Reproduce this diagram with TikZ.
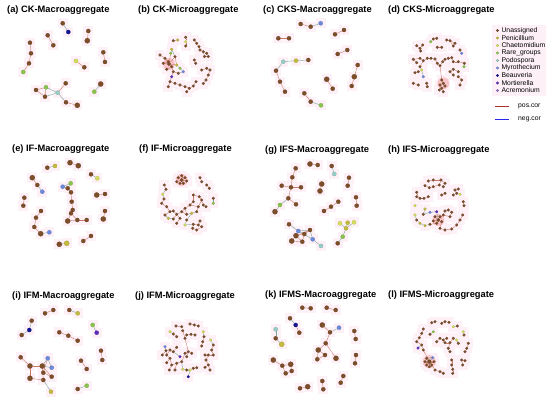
\documentclass[tikz,border=0pt]{standalone}
\usepackage{fontspec}
\setmainfont{Liberation Sans}
\usetikzlibrary{positioning}
\definecolor{un}{RGB}{125,78,42}
\definecolor{pe}{RGB}{196,186,62}
\definecolor{ch}{RGB}{212,222,90}
\definecolor{ra}{RGB}{138,196,76}
\definecolor{po}{RGB}{150,205,198}
\definecolor{my}{RGB}{108,138,220}
\definecolor{be}{RGB}{20,20,150}
\definecolor{mo}{RGB}{96,44,190}
\definecolor{ac}{RGB}{146,116,206}
\definecolor{halopink}{RGB}{253,241,247}
\definecolor{hotpink}{RGB}{248,196,200}
\definecolor{posline}{RGB}{168,52,46}
\definecolor{negline}{RGB}{40,40,240}
\definecolor{posedgec}{RGB}{204,122,108}
\definecolor{mixedgec}{RGB}{124,164,156}
\pgfdeclarelayer{halo}
\pgfdeclarelayer{edge}
\pgfsetlayers{halo,edge,main}
\tikzset{
  fdot/.style={circle, inner sep=0pt, fill=#1, draw=#1!80!black, line width=0.15pt},
  halo/.style={fill=halopink},
  hot/.style={fill=hotpink},
  posedge/.style={draw=posedgec, line width=0.4pt},
  mixedge/.style={draw=mixedgec, line width=0.4pt},
  paneltitle/.style={anchor=west, font=\bfseries\fontsize{9.3}{10}\selectfont, inner sep=0pt},
  legtext/.style={font=\fontsize{6.8}{7.5}\selectfont, inner sep=0pt},
}
% #1 prefix, #2 nodes x/y/colour/size, #3 pos edges, #4 mixed edges
\newcommand{\drawnet}[4]{%
  \foreach [count=\i] \x/\y/\c/\s in {#2}
    \node[fdot=\c, minimum size=\s pt] (#1\i) at (\x,\y) {};
  \begin{pgfonlayer}{halo}
    \foreach \x/\y/\c/\s in {#2}
      \fill[halo] (\x-5,\y-5) rectangle (\x+5,\y+5);
  \end{pgfonlayer}
  \begin{pgfonlayer}{edge}
    \foreach \u/\v in {#3} \draw[posedge] (#1\u) -- (#1\v);
    \foreach \u/\v in {#4} \draw[mixedge] (#1\u) -- (#1\v);
  \end{pgfonlayer}
}

\begin{document}
\begin{tikzpicture}[x=1pt, y=-1pt]
  \useasboundingbox (0,0) rectangle (550,397);
  % Panel titles
  \node[paneltitle] (ta) at (7,10) {(a) CK-Macroaggregate};
  \node[paneltitle] (tb) at (138,10) {(b) CK-Microaggregate};
  \node[paneltitle] (tc) at (263,10) {(c) CKS-Macroaggregate};
  \node[paneltitle] (td) at (388,10) {(d) CKS-Microaggregate};
  \node[paneltitle] (te) at (12,149) {(e) IF-Macroaggregate};
  \node[paneltitle] (tf) at (139,149) {(f) IF-Microaggregate};
  \node[paneltitle] (tg) at (265,150) {(g) IFS-Macroaggregate};
  \node[paneltitle] (th) at (388,150) {(h) IFS-Microaggregate};
  \node[paneltitle] (ti) at (12,296) {(i) IFM-Macroaggregate};
  \node[paneltitle] (tj) at (135,296) {(j) IFM-Microaggregate};
  \node[paneltitle] (tk) at (265,295) {(k) IFMS-Macroaggregate};
  \node[paneltitle] (tl) at (388,295) {(l) IFMS-Microaggregate};

  % (a)
  \drawnet{a}{62.7/23.3/un/4.2, 68.3/32/be/4.2, 88.3/31/un/4.2, 87.3/40.7/un/5.2,
    47.7/35.3/un/4.2, 53.3/45.3/un/4.2, 30/42.7/un/4.2, 31/53.3/un/4.2,
    29/63.3/un/4.2, 23.3/72/ra/4.2, 103.3/52.3/un/4.2, 105/62/un/4.2,
    76/61/ch/4.2, 84.3/67.3/un/4.2, 36/90/un/4.2, 46/87.3/ra/4.2,
    45/96.7/un/4.2, 57.7/92.7/po/4.2, 65.7/83.3/un/4.2, 66/102.3/un/4.2,
    77.3/105.3/un/5.2, 100.7/84/un/5.2, 94.3/91.7/ra/4.2}
    {3/4, 5/6, 7/8, 8/9, 9/10, 11/12, 13/14, 15/16, 15/17, 16/17, 18/19, 20/21}
    {1/2, 16/18, 17/18, 18/20, 22/23}

  % (b)
  \drawnet{b}{173.3/40.7/un/2.8, 177.7/40/pe/2.8, 185.7/37.3/un/2.8, 185.7/41.7/ch/2.8,
    185.7/46/un/2.8, 194.3/40/un/2.8, 196.7/43.3/un/2.8, 199/46.7/un/2.8,
    200/50/un/2.8, 203.3/51.7/un/2.8, 206.7/53.3/un/2.8, 208.3/56.5/un/2.8,
    204.5/56.5/un/2.8, 194.3/60/un/2.8, 195.7/63.3/un/2.8, 160/55/un/2.8,
    165/58.3/un/2.8, 170.7/53.3/ra/2.8, 171.7/49.3/pe/2.8, 175/56.7/un/2.8,
    163.3/63.3/un/2.8, 168.3/61.7/un/2.8, 171.7/66.7/un/2.8, 166.7/69.3/un/2.8,
    173.3/71.7/un/2.8, 176.7/65/pe/2.8, 180/68.3/ra/2.8, 183.3/71.7/my/2.8,
    178.3/73.3/un/2.8, 171.7/76.7/mo/2.8, 170/81.7/un/2.8, 175/83.3/un/2.8,
    180/85/un/2.8, 185/86.7/un/2.8, 189.3/88.3/un/2.8, 193.3/86/un/2.8,
    196/81.7/un/2.8, 186.7/91.7/un/2.8, 168.3/86.7/un/2.8, 201.7/70/un/2.8,
    206.7/68.3/un/2.8, 210/70/un/2.8, 208.3/75/un/2.8, 206/80/un/2.8,
    203.3/83.5/un/2.8, 169/64/un/3.6}
    {1/2, 3/4, 4/5, 6/7, 7/8, 8/9, 9/10, 10/11, 11/12, 10/13, 13/12, 14/15,
     16/17, 17/46, 18/46, 20/46, 21/46, 22/46, 23/46, 24/23, 25/23, 26/46,
     21/22, 17/22, 29/25, 30/25, 31/30, 32/31, 33/32, 34/33, 35/34, 36/35,
     37/36, 38/35, 39/31, 40/41, 41/42, 42/43, 43/44, 44/45, 20/26}
    {26/27, 27/28, 28/29, 19/20, 18/19}

  % (c)
  \drawnet{c}{300.7/24/un/4.2, 310.7/26.7/un/4.2, 320.7/23.3/my/4.2, 278.3/38.3/un/4.2,
    289/38.3/un/4.2, 335/34.3/un/4.2, 344/30/un/4.2, 337.7/54/un/4.2,
    347.3/50/un/4.2, 283.3/61.7/po/4.2, 296/60.7/pe/4.2, 308.3/60/un/4.2,
    276/70.7/un/4.2, 280/81.7/un/4.2, 285/91.7/un/4.2, 357.7/65/un/4.2,
    354.3/76.7/un/5.2, 351.7/86/un/4.2, 326.7/79.3/un/5.2, 332.7/88.7/un/4.2,
    304.3/93.3/un/4.2, 310.7/101.7/un/4.2, 321/105.3/ra/4.2}
    {1/2, 4/5, 6/7, 8/9, 13/14, 14/15, 16/17, 17/18, 19/20, 21/22}
    {2/3, 10/11, 11/12, 10/13, 22/23}

  % (d)
  \drawnet{d}{416.7/45.7/un/2.8, 420/48.3/un/2.8, 422.7/45/un/2.8, 420.7/51/un/2.8,
    430.7/41.7/ra/2.8, 433.3/39/un/2.8, 436.7/38.3/un/2.8, 437.3/47.3/un/2.8,
    441.7/47.3/un/2.8, 446.7/40/un/2.8, 450/40.7/un/2.8, 453.3/46/un/2.8,
    455/43.3/un/2.8, 460/50/un/2.8, 461.7/53.3/my/2.8, 413.3/59.3/un/2.8,
    416.7/62.7/un/2.8, 420/58.3/un/2.8, 423.3/60.7/un/2.8, 427.3/58.3/un/2.8,
    431/58.3/un/2.8, 435/59/un/2.8, 437.3/63.3/un/2.8, 440/65.7/un/2.8,
    442.7/61.7/un/2.8, 445/59.3/un/2.8, 448.3/58.3/un/2.8, 451.7/57.7/un/2.8,
    453.3/61.7/un/2.8, 458.3/61.7/un/2.8, 464.3/63.3/un/2.8, 464/66.7/ra/2.8,
    420/66.7/un/2.8, 421.7/70/ch/2.8, 418.3/71.7/un/2.8, 415/72.7/un/2.8,
    423.3/76.7/my/2.8, 413.3/83.3/un/2.8, 418.3/85/un/2.8, 426.7/83.3/un/2.8,
    427.3/86.7/un/2.8, 450/71.7/un/2.8, 453.3/69.3/un/2.8, 458.3/71.7/un/2.8,
    453.3/75/un/2.8, 441.7/80/un/2.8, 443.3/83.3/un/2.8, 440/85/un/2.8,
    445/86/un/2.8, 441.7/88.3/un/2.8, 439.3/90/un/2.8, 443.3/91.7/un/2.8,
    458.3/76.7/un/2.8, 461.7/80/un/2.8, 460/85/un/2.8}
    {1/2, 2/3, 2/4, 5/6, 6/7, 8/9, 10/11, 11/12, 11/13, 16/17, 16/18, 18/19,
     19/20, 20/21, 21/22, 22/23, 23/24, 24/25, 25/26, 26/27, 27/28, 28/29,
     29/30, 30/31, 19/33, 34/35, 35/36, 38/39, 40/41, 42/43, 43/44, 42/45,
     46/47, 47/48, 47/49, 48/50, 49/50, 50/51, 50/52, 46/24, 53/54, 54/55}
    {14/15, 31/32, 33/34, 34/37}

  % (e)
  \drawnet{e}{47.3/167.7/un/4.2, 55/166/pe/4.2, 70/162.7/un/5.2, 78.3/165.7/un/5.2,
    91/174.3/un/4.2, 97.3/178.3/ch/4.2, 32.3/177.7/un/5.2, 37.3/185/un/4.2,
    42.3/191.7/my/4.2, 24.3/197.7/un/4.2, 23.3/205.7/un/4.2, 62.7/186.7/my/4.2,
    70.7/183.3/ra/4.2, 67.7/188.3/un/4.2, 71/192.3/un/4.2, 71.7/201.7/un/4.2,
    72.7/210/un/4.2, 71/213.3/un/4.2, 67.7/221/un/5.2, 77.3/220/un/4.2,
    86.7/220/un/4.2, 96.7/195/un/5.2, 105/194/un/4.2, 41/211/un/4.2,
    36/217.7/un/4.2, 34.3/227/un/4.2, 40.7/233.7/un/5.2, 49.3/232.3/my/4.2,
    105/211/un/4.2, 103.3/219/un/5.2, 59.3/244.3/un/5.2, 66.7/243.3/pe/5.2,
    91/236/un/4.2, 83.3/241/un/4.2}
    {3/4, 7/8, 10/11, 14/15, 15/16, 16/17, 17/18, 18/19, 18/20, 19/20, 20/21,
     22/23, 24/25, 25/26, 26/27, 29/30, 31/32, 33/34, 12/14}
    {1/2, 5/6, 8/9, 12/13, 13/14, 27/28}

  % (f)
  \drawnet{f}{181.7/180/un/3.6, 178.3/177.7/un/2.8, 185/177.7/un/2.8, 180/183.3/un/2.8,
    183.3/183.3/un/2.8, 186.7/181/un/2.8, 176.7/181.7/un/2.8, 181.7/175.7/un/2.8,
    200/177.7/un/2.8, 201.7/181.7/un/2.8, 206.7/185/un/2.8, 209.3/188.3/un/2.8,
    213.3/198.3/un/2.8, 213.3/203.3/ra/2.8, 164.3/185/un/2.8, 166/189.3/un/2.8,
    162.7/194.3/ch/2.8, 164/199/un/2.8, 161.7/203.3/un/2.8, 166.7/206.7/un/2.8,
    170/211.7/un/2.8, 165/215/un/2.8, 168.3/218.3/pe/2.8, 173.3/219/un/2.8,
    176.7/214.3/un/2.8, 173.3/211/un/2.8, 181.7/211.7/un/2.8, 185/208.3/un/2.8,
    186.7/214.3/un/2.8, 190/205/un/2.8, 193.3/201.7/un/2.8, 193.3/195/un/2.8,
    199.3/196.7/un/2.8, 201.7/200/un/2.8, 203.3/205/un/2.8, 206/206.7/un/2.8,
    198.3/206.7/un/2.8, 196.7/211.7/un/2.8, 191.7/213.3/pe/2.8, 186.7/220/un/2.8,
    185/225/ch/2.8, 193.3/224.3/un/2.8, 198.3/225/un/2.8, 200/221/un/2.8,
    201.7/226.7/un/2.8, 196.7/230/un/2.8, 192.7/228.3/un/2.8, 180/218.3/un/2.8,
    176.7/223.3/un/2.8}
    {1/2, 1/3, 1/4, 1/5, 1/6, 1/7, 1/8, 9/10, 11/12, 15/16, 18/19, 19/20,
     20/21, 21/22, 24/25, 25/26, 26/21, 25/27, 27/28, 28/29, 29/27, 28/30,
     30/31, 31/32, 32/33, 33/34, 34/35, 35/36, 34/37, 37/38, 42/43, 43/44,
     43/45, 45/46, 46/47, 42/47, 25/48, 48/49, 30/37}
    {13/14, 16/17, 17/18, 22/23, 23/24, 38/39, 39/29, 39/40, 40/41, 41/42}

  % (g)
  \drawnet{g}{310/164/un/5.2, 317.7/165/un/4.2, 331.7/166/un/4.2, 334.3/174/po/4.2,
    295.7/168.3/un/4.2, 292.3/177.3/un/4.2, 291/187.3/un/4.2, 281.7/185.7/un/4.2,
    301/187.3/un/4.2, 288.3/198.3/un/4.2, 280/205/ra/4.2, 275/211.7/un/5.2,
    296/204.3/un/4.2, 321.7/184/un/5.2, 320/191/un/5.2, 349/177.7/un/4.2,
    347.7/185.7/un/4.2, 356/197.3/un/4.2, 356.7/205.7/un/4.2, 338.3/201.7/un/4.2,
    331/206.7/un/4.2, 324/211/un/4.2, 289/224.3/un/4.2, 298.3/231/my/4.2,
    296/235.7/un/5.2, 291.7/241/un/5.2, 302.3/241.7/un/4.2, 304.3/234/un/4.2,
    310/230/un/4.2, 312.7/239.3/my/4.2, 321/246/po/4.2, 340/223.3/ch/4.2,
    347.7/222.7/pe/4.2, 354/222.3/ch/4.2, 346/228.3/pe/4.2, 342.7/236.7/ra/4.2,
    337.7/243.3/un/4.2}
    {1/2, 5/6, 6/7, 7/8, 7/9, 7/10, 10/13, 14/15, 16/17, 18/19, 20/21, 21/22,
     25/26, 25/27, 26/27, 27/28, 28/29, 28/25, 25/29}
    {3/4, 10/11, 11/12, 23/24, 24/25, 24/29, 29/30, 30/31, 24/30, 32/35,
     33/35, 34/35, 35/36, 36/37}

  % (h)
  \drawnet{h}{428.3/181/un/2.8, 433.3/180/un/2.8, 441/180/un/2.8, 445/183.3/un/2.8,
    439.3/185/un/2.8, 433.3/186.7/un/2.8, 425/185.7/un/2.8, 429.3/187.7/un/2.8,
    443.3/186.7/un/2.8, 416.7/192.3/un/2.8, 416.7/196.7/un/2.8, 420/198.3/un/2.8,
    424/198.3/un/2.8, 428.3/196.7/un/2.8, 441.7/195/un/2.8, 445/193.3/un/2.8,
    455/190/un/2.8, 458.3/189/un/2.8, 456.7/193.3/un/2.8, 453.3/195/un/2.8,
    460/194.3/ch/2.8, 463.3/201.7/un/2.8, 464/205.7/un/2.8, 415/205.7/ch/2.8,
    425/209/pe/2.8, 438.3/220/un/3.6, 435/216.7/un/2.8, 440/216.7/un/2.8,
    441.7/221.7/un/2.8, 436.7/223.3/un/2.8, 433.3/221/un/2.8, 443.3/215/un/2.8,
    445/211/un/2.8, 448.3/210/un/2.8, 451.7/212.3/un/2.8, 450/216.7/un/2.8,
    436.7/211.7/mo/2.8, 430/212.3/my/2.8, 423.3/214.3/un/2.8, 415/215/ch/2.8,
    416.7/220/un/2.8, 420/223.3/pe/2.8, 425/225.7/pe/2.8, 430/224.3/un/2.8,
    440/228.3/un/2.8, 445/230/un/2.8, 451.7/229/un/2.8, 456.7/225/un/2.8,
    460/220/un/2.8, 462.7/215/un/2.8}
    {1/2, 2/3, 3/4, 3/5, 5/6, 6/8, 8/7, 4/9, 10/11, 11/12, 12/13, 13/14,
     15/16, 17/18, 17/19, 19/20, 22/23, 26/27, 26/28, 26/29, 26/30, 26/31,
     26/32, 32/33, 33/34, 34/35, 35/36, 32/36, 44/30, 29/45, 45/46, 46/47,
     47/48, 48/49, 49/50}
    {19/21, 26/37, 37/38, 38/39, 39/25, 40/41, 41/42, 42/43, 43/44}

  % (i)
  \drawnet{i}{45/313.3/un/4.2, 53.3/310/un/4.2, 69.3/310/un/4.2, 77.7/313.3/pe/4.2,
    31.7/320.7/un/4.2, 29.3/330/be/4.2, 21.7/335/un/4.2, 92.7/325/ra/4.2,
    96.7/332.7/mo/4.2, 59.3/332.3/un/4.2, 68.3/335.7/un/4.2, 77.7/340.7/un/4.2,
    101/350.7/un/4.2, 102.3/360/un/4.2, 81/360.7/un/4.2, 86.7/369/un/4.2,
    20.7/357.3/un/4.2, 30/366/un/5.2, 42.3/366/un/5.2, 47.7/358.3/my/4.2,
    51.7/367.7/my/4.2, 43.3/372.7/un/4.2, 51.7/376.7/un/4.2, 30/378.3/un/5.2,
    43.3/380/un/4.2, 51/391.7/pe/4.2, 77.7/389/un/4.2, 86.7/385.7/ra/4.2}
    {1/2, 10/11, 11/12, 13/14, 15/16, 17/18, 18/19, 19/22, 22/23, 18/24,
     24/25, 19/25, 19/23, 22/20}
    {3/4, 5/6, 6/7, 8/9, 19/20, 19/21, 20/21, 25/26, 27/28}

  % (j)
  \drawnet{j}{176/326/un/2.8, 181.7/326.7/un/2.8, 190/324/un/2.8, 194.3/325/un/2.8,
    198.3/326/un/2.8, 170/331.7/ch/2.8, 173.3/334/un/2.8, 176.7/336.7/un/2.8,
    182.7/330.7/un/2.8, 185/338.3/un/2.8, 186.7/335/un/2.8, 191/334.3/un/2.8,
    195/335/un/2.8, 203.3/331.7/ch/2.8, 204/336.7/un/2.8, 202.7/341.7/un/2.8,
    201.7/346/un/2.8, 210.7/340/ch/2.8, 213.3/345/un/2.8, 211.7/350/un/2.8,
    213.3/355/un/2.8, 208.3/355/un/2.8, 205/355/un/2.8, 206/360/un/2.8,
    208.3/365/un/2.8, 205/367.3/un/2.8, 210/370/un/2.8, 165/346.7/my/2.8,
    166/350.7/un/2.8, 162.3/355/un/2.8, 166.7/355/un/2.8, 170/350/un/2.8,
    173.3/351.7/un/2.8, 176.7/347.3/un/2.8, 180/356.7/mo/2.8, 170/358.3/un/2.8,
    166.7/362.7/un/2.8, 171.7/365/un/2.8, 176.7/363.3/un/2.8, 169.3/370/un/2.8,
    175/370/un/2.8, 181.7/361.7/un/2.8, 185/353.3/un/2.8, 188.3/351.7/un/2.8,
    191.7/353.3/un/2.8, 186.7/356.7/un/2.8, 182.7/369.3/ch/2.8, 186.7/370/un/2.8,
    190/370/ch/2.8, 193.3/368.3/un/2.8, 196.7/367.7/un/2.8, 188.3/376.7/be/2.8}
    {1/2, 3/4, 4/5, 7/8, 9/10, 11/12, 12/13, 15/16, 16/17, 19/20, 20/21,
     21/22, 22/23, 22/24, 24/25, 25/26, 25/27, 29/30, 29/31, 31/32, 32/33,
     33/34, 31/36, 36/37, 36/38, 38/39, 38/40, 39/41, 39/42, 42/43, 43/44,
     44/45, 44/46, 49/50, 50/51, 10/44}
    {6/7, 14/15, 18/19, 28/29, 33/35, 42/47, 47/48, 48/49, 49/52}

  % (k)
  \drawnet{k}{302.3/307.7/un/4.2, 310.7/308.3/un/4.2, 326.7/307.7/un/4.2, 335.7/310/un/4.2,
    290/318.3/un/4.2, 295.7/325/be/4.2, 299.3/332.7/un/4.2, 275.7/329.3/po/4.2,
    275.7/338.3/un/4.2, 281.7/344.3/pe/5.2, 322.3/325/un/5.2, 330/332.3/un/4.2,
    339/327.7/my/4.2, 325.7/343.3/un/4.2, 318.3/350/un/5.2, 317.3/359.3/un/4.2,
    325/355/un/4.2, 336/358.3/un/5.2, 354.3/331/un/4.2, 355.7/339/un/4.2,
    273.3/360/un/5.2, 282.3/365.7/un/4.2, 290.7/364.3/un/5.2, 285.7/373.3/un/4.2,
    291.7/371/un/4.2, 356/355/un/4.2, 355/363.3/un/4.2, 343.3/376/un/4.2,
    340.7/382.7/un/4.2, 322.3/381/un/4.2, 323.3/389.3/un/4.2, 300/388.3/un/4.2,
    307.7/386.7/un/5.2}
    {1/2, 3/4, 6/7, 11/12, 12/14, 14/15, 15/16, 16/17, 15/17, 14/18, 19/20,
     21/22, 22/23, 22/24, 24/25, 23/25, 26/27, 28/29, 30/31, 32/33}
    {5/6, 8/9, 9/10, 12/13}

  % (l)
  \drawnet{l}{431.7/322.7/un/2.8, 435/321.7/un/2.8, 441.7/323.3/un/2.8, 445/321.7/un/2.8,
    449/322.3/un/2.8, 453.3/326.7/ch/2.8, 457.3/326/un/2.8, 423.3/329/un/2.8,
    421.7/333.3/un/2.8, 419.3/337.7/un/2.8, 416.7/341.7/un/2.8, 433.3/331.7/ra/2.8,
    430/334.3/un/2.8, 463.3/331.7/ch/2.8, 464/335/un/2.8, 440/338.3/un/2.8,
    443.3/340/un/2.8, 446.7/338.3/un/2.8, 445/342.7/un/2.8, 450/342.7/un/2.8,
    453.3/338.3/un/2.8, 456.7/340/ch/2.8, 458.3/343.3/un/2.8, 436.7/341.7/un/2.8,
    448.3/348.3/un/2.8, 450/351.7/un/2.8, 468.3/343.3/un/2.8, 466.7/348.3/un/2.8,
    465/351.7/un/2.8, 421.7/345/un/2.8, 418/348/mo/2.8, 423.3/350/un/2.8,
    429.3/361.7/un/4, 426.7/358.3/un/2.8, 432.7/357.7/my/2.8, 431.7/365/un/2.8,
    426.7/365/un/2.8, 425/361.7/un/2.8, 434/361.7/un/2.8, 429.3/366.7/un/2.8,
    435/370/un/2.8, 440/371.7/un/2.8, 443.3/373.3/un/2.8, 451.7/360/un/2.8,
    451.7/365/un/2.8, 452.7/369.3/un/2.8, 452.7/373.3/un/2.8, 461.7/360/un/2.8,
    465/360.7/un/2.8, 462.7/365/un/2.8}
    {1/2, 3/4, 4/5, 8/9, 9/10, 10/11, 16/17, 17/18, 17/19, 19/20, 20/21,
     16/24, 20/25, 25/26, 27/28, 28/29, 30/32, 32/33, 33/34, 33/36, 33/37,
     33/38, 33/39, 33/40, 36/41, 41/42, 42/43, 44/45, 45/46, 46/47, 48/49,
     48/50, 11/30}
    {6/7, 12/13, 14/15, 21/22, 22/23, 30/31, 33/35, 34/35}

  % Hot spots and legend backdrop
  \begin{pgfonlayer}{halo}
    \foreach \hub/\r in {b46/6, d47/6, f1/6, h26/6, l33/6.5}
      \fill[hot] (\hub) circle (\r);
    \fill[halo] (492,25) rectangle (546,96);
  \end{pgfonlayer}

  % Legend
  \foreach [count=\k] \c/\t in {un/Unassigned, pe/Penicillium, ch/Chaetomidium,
      ra/Rare\_groups, po/Podospora, my/Myrothecium, be/Beauveria,
      mo/Mortierella, ac/Acremonium}{
    \node[fdot=\c, minimum size=2.6pt] (key\k) at (497.5,23+7.5*\k) {};
    \node[legtext, right=2.5pt of key\k] (keytext\k) {\t};
  }
  \coordinate (posA) at (495,106.5);
  \coordinate (posB) at (509,106.5);
  \coordinate (negA) at (495,119.3);
  \coordinate (negB) at (509,119.3);
  \draw[posline, line width=1.2pt] (posA) -- (posB);
  \draw[negline, line width=1.2pt] (negA) -- (negB);
  \node[legtext, right=9pt of posB] (postext) {pos.cor};
  \node[legtext, right=9pt of negB] (negtext) {neg.cor};
\end{tikzpicture}
\end{document}
